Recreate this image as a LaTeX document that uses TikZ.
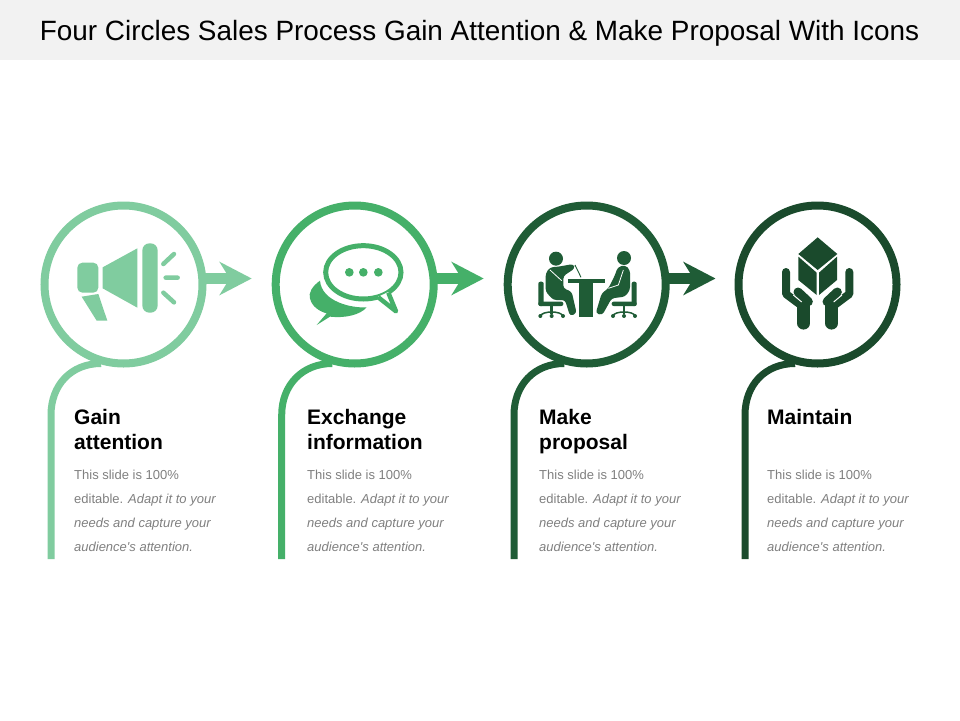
\documentclass[tikz,border=0pt]{standalone}
\usepackage{fontspec}
\setmainfont{Liberation Sans}
\newfontfamily\bodyfont{Liberation Sans}
\usetikzlibrary{arrows.meta,calc}
\pgfdeclarelayer{base}
\pgfdeclarelayer{behind}
\pgfsetlayers{base,behind,main}
\definecolor{cA}{HTML}{80CC9F}
\definecolor{cB}{HTML}{45B069}
\definecolor{cC}{HTML}{1F5C36}
\definecolor{cD}{HTML}{1A4A2C}
\tikzset{
  ring/.style={circle,draw=#1,line width=8pt,fill=white,minimum size=158pt,inner sep=0pt},
  tailline/.style={draw=#1,line width=7pt},
  flow/.style={draw=#1,line width=11pt,-{Stealth[length=32pt,width=33pt,inset=10pt,#1]}},
  heading/.style={anchor=north west,inner sep=0pt,align=left,font=\fontsize{21}{25}\selectfont\bfseries,text=black},
  bodytext/.style={anchor=north west,inner sep=0pt,align=left,font=\bodyfont\fontsize{13}{24}\selectfont,text=black!50},
  icon/.style={x=0.33333pt,y=-0.33333pt},
}
\begin{document}
\begin{tikzpicture}[x=1pt,y=-1pt]
\useasboundingbox (0,0) rectangle (960,720);
\begin{pgfonlayer}{base}
\fill[white] (0,0) rectangle (960,720);
\fill[black!5] (0,0) rectangle (960,60);
\end{pgfonlayer}
\node[font=\fontsize{27.9}{30}\selectfont,text=black] (title) at (479.5,33) {Four Circles Sales Process Gain Attention \& Make Proposal With Icons};

% rings
\node[ring=cA] (c1) at (123.5,284.5) {};
\node[ring=cB] (c2) at (354.7,284.5) {};
\node[ring=cC] (c3) at (586.7,284.5) {};
\node[ring=cD] (c4) at (817.5,284.5) {};

\begin{pgfonlayer}{behind}
% arrows
\coordinate (t1) at (251.7,278.5);
\coordinate (t2) at (483.7,278.5);
\coordinate (t3) at (715.5,278.5);
\draw[flow=cA] (c1 |- t1) -- (t1);
\draw[flow=cB] (c2 |- t2) -- (t2);
\draw[flow=cC] (c3 |- t3) -- (t3);

% tails
\foreach \n/\x/\col in {1/51/cA,2/281.7/cB,3/514/cC,4/745/cD}{
  \coordinate (e\n) at (\x,559);
  \draw[tailline=\col] (e\n) -- ++(0,-144) .. controls ++(0,-30) and ($(c\n.250)+(-24,1)$) .. ($(c\n.250)+(6,1)$);
}
\end{pgfonlayer}

% megaphone
\begin{scope}[icon,xshift=30pt,yshift=-190pt]
  \fill[cA,rounded corners=5pt] (142,218) rectangle (205,308);
  \fill[cA] (218,232) -- (322,175) -- (322,353) -- (218,295) -- cycle;
  \fill[cA,rounded corners=7pt] (337,160) rectangle (383,368);
  \fill[cA] (155,320) -- (205,312) -- (232,392) -- (200,392) -- cycle;
  \draw[cA,line width=4.5pt,line cap=round] (400,222) -- (432,192) (407,263) -- (443,263) (400,308) -- (432,337);
\end{scope}

% chat bubbles
\begin{scope}[icon,xshift=265pt,yshift=-190pt]
  \fill[cB] (165,272) .. controls (140,290) and (130,310) .. (135,325) .. controls (140,350) and (165,365) .. (185,370)
    -- (155,405) -- (195,380) .. controls (240,385) and (285,375) .. (305,352)
    .. controls (260,355) and (170,335) .. (165,272) -- cycle;
  \draw[cB,line width=5pt,fill=white] (295,247) ellipse [x radius=113, y radius=80];
  \fill[white] (340,320) -- (393,365) -- (370,306) -- cycle;
  \draw[cB,line width=4.5pt,line join=round] (340,322) -- (393,364) -- (370,308);
  \fill[cB] (253,247) circle [radius=13] (295,247) circle [radius=13] (340,247) circle [radius=13];
\end{scope}

% meeting
\begin{scope}[icon,xshift=495pt,yshift=-190pt]
  \fill[cC] (183,206) circle [radius=21] (387,204) circle [radius=21];
  \fill[cC] (218,268) rectangle (330,280);
  \fill[cC] (252,275) rectangle (295,382);
  \fill[cC,rounded corners=3pt] (152,250) -- (165,232) -- (190,230) -- (235,222) -- (240,235) -- (205,258) -- (205,295) -- (230,305) -- (245,370) -- (225,378) -- (210,330) -- (175,330) -- (152,305) -- cycle;
  \draw[white,line width=0.8pt] (165,240) -- (200,272);
  \draw[cC,line width=0.9pt] (240,225) -- (258,262);
  \fill[cC,rounded corners=2pt] (130,275) rectangle (146,348);
  \fill[cC,rounded corners=2pt] (130,335) rectangle (205,348);
  \fill[cC] (166,348) rectangle (174,372);
  \draw[cC,line width=1.5pt] (137,378) .. controls (140,362) and (200,362) .. (203,378);
  \fill[cC] (136,378) circle [radius=6] (170,378) circle [radius=6] (204,378) circle [radius=6];
  \fill[cC,rounded corners=3pt] (368,232) -- (390,225) -- (405,240) -- (405,300) -- (390,320) -- (350,325) -- (322,375) -- (302,370) -- (320,310) -- (340,295) -- (360,255) -- cycle;
  \draw[white,line width=0.8pt] (385,240) -- (370,285) -- (340,295);
  \fill[cC,rounded corners=2pt] (410,275) rectangle (425,348);
  \fill[cC,rounded corners=2pt] (350,335) rectangle (425,348);
  \fill[cC] (383,348) rectangle (391,372);
  \draw[cC,line width=1.5pt] (354,378) .. controls (357,362) and (417,362) .. (420,378);
  \fill[cC] (354,378) circle [radius=6] (387,378) circle [radius=6] (420,378) circle [radius=6];
\end{scope}

% hands and box
\begin{scope}[icon,xshift=725pt,yshift=-190pt]
  \fill[cD] (278,142) -- (337,192) -- (278,240) -- (220,192) -- cycle;
  \fill[cD] (220,200) -- (275,248) -- (275,315) -- (220,270) -- cycle;
  \fill[cD] (336,200) -- (282,248) -- (282,315) -- (336,270) -- cycle;
  \foreach \m/\o in {1/0,-1/556}{
    \begin{scope}[xshift=\o*0.33333pt,x=\m*0.33333pt]
      \draw[cD,line width=8pt,line cap=round,line join=round] (183,246) -- (183,312) -- (234,350);
      \draw[cD,line width=12.5pt,line cap=round] (236,345) -- (236,400);
      \draw[cD,line width=9pt,line cap=round] (219,306) -- (250,335);
      \draw[white,line width=1pt] (205,315) -- (230,336);
    \end{scope}
  }
\end{scope}

% texts
\node[heading] (h1) at (74,409.5) {Gain\\attention};
\node[heading] (h2) at (307,409.5) {Exchange\\information};
\node[heading] (h3) at (539,409.5) {Make\\proposal};
\node[heading] (h4) at (767,409.5) {Maintain};
\node[bodytext] (b1) at (74,469.5) {This slide is 100\%\\editable. \textit{Adapt it to your}\\\textit{needs and capture your}\\\textit{audience's attention.}};
\node[bodytext] (b2) at (307,469.5) {This slide is 100\%\\editable. \textit{Adapt it to your}\\\textit{needs and capture your}\\\textit{audience's attention.}};
\node[bodytext] (b3) at (539,469.5) {This slide is 100\%\\editable. \textit{Adapt it to your}\\\textit{needs and capture your}\\\textit{audience's attention.}};
\node[bodytext] (b4) at (767,469.5) {This slide is 100\%\\editable. \textit{Adapt it to your}\\\textit{needs and capture your}\\\textit{audience's attention.}};
\end{tikzpicture}
\end{document}
